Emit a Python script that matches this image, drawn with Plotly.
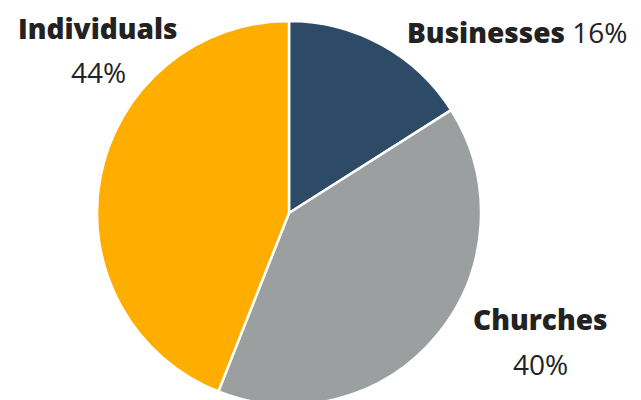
import plotly.graph_objects as go

labels = ["Businesses", "Churches", "Individuals"]
values = [16, 40, 44]
colors = ["#2d4a66", "#9c9fa0", "#ffae00"]

W, H = 641, 400
T, B = 13, 3
fig = go.Figure()
fig.add_trace(go.Pie(
    labels=labels, values=values, sort=False, direction="clockwise", rotation=0,
    marker=dict(colors=colors, line=dict(color="white", width=2.5)),
    textinfo="none", hoverinfo="label+percent", showlegend=False,
    domain=dict(x=[89 / W, 473 / W], y=[0, 1]),
))

total = sum(values)
pct = {l: f"{round(v * 100 / total)}%" for l, v in zip(labels, values)}
FAM = "'Open Sans', Lato, sans-serif"
base = dict(family=FAM, size=28, color="#222222")


def name(t):
    return f"<span style='font-weight:800'>{t}</span>"


def num(t):
    return f"<span style='font-weight:400;font-size:28px'>{t}</span>"


def px(x):
    return x / W


def py(y):
    return 1 - (y - T) / (H - T - B)


anns = [
    dict(text=name(labels[2]), x=px(90), y=py(20), xanchor="center", yanchor="middle"),
    dict(text=num(pct[labels[2]]), x=px(90), y=py(64), xanchor="center", yanchor="middle"),
    dict(text=f"{name(labels[0])} {num(pct[labels[0]])}", x=px(621), y=py(24), xanchor="right", yanchor="middle"),
    dict(text=name(labels[1]), x=px(532), y=py(311), xanchor="center", yanchor="middle"),
    dict(text=num(pct[labels[1]]), x=px(532), y=py(356), xanchor="center", yanchor="middle"),
]
for a in anns:
    a.update(xref="paper", yref="paper", showarrow=False, font=base)

fig.update_layout(
    width=W, height=H, margin=dict(l=0, r=0, t=T, b=B),
    paper_bgcolor="white", plot_bgcolor="white", annotations=anns,
)
fig.write_html("out.html")
